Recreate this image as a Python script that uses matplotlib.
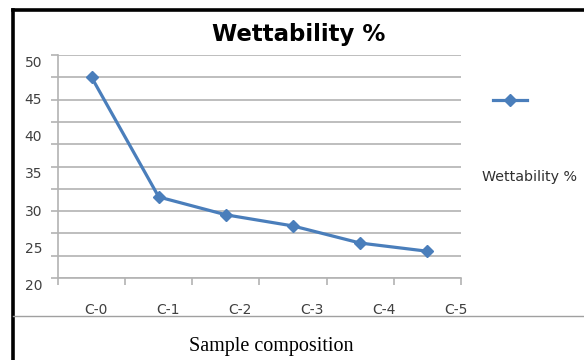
import matplotlib
matplotlib.use("Agg")
import matplotlib.pyplot as plt
import matplotlib.transforms as mtransforms
from matplotlib.lines import Line2D
import numpy as np

# ---- data ----
categories = ["C-0", "C-1", "C-2", "C-3", "C-4", "C-5"]
wettability = [47.0, 30.9, 28.5, 27.0, 24.7, 23.6]
y_tick_values = [20, 25, 30, 35, 40, 45, 50]
grid_values = list(range(20, 51, 3))
series_name = "Wettability %"
title = "Wettability %"
x_title = "Sample composition"

W, H = 584, 360
fig = plt.figure(figsize=(W / 100, H / 100), dpi=100)
fig.patch.set_facecolor("white")

ax = fig.add_axes([58 / W, 1 - 278 / H, (461 - 58) / W, (278 - 55) / H])
x = np.arange(len(categories))
blue = "#4A7EBB"
ax.plot(x, wettability, color=blue, lw=2.3, marker="D", ms=6.5,
        markeredgecolor=blue, markerfacecolor=blue, zorder=3)
ax.set_xlim(-0.5, len(categories) - 0.5)
ax.set_ylim(grid_values[0], grid_values[-1])

gray = "#B3B3B3"
# y gridlines & ticks
ax.set_yticks(grid_values)
ax.set_yticklabels([])
ax.grid(axis="y", color=gray, lw=1.2)
ax.tick_params(axis="y", length=5, width=1.2, color=gray, direction="out")
# x ticks at category boundaries
ax.set_xticks(np.arange(-0.5, len(categories), 1.0))
ax.set_xticklabels([])
ax.tick_params(axis="x", length=5, width=1.2, color=gray, direction="out")
for s in ["top", "right"]:
    ax.spines[s].set_visible(False)
for s in ["left", "bottom"]:
    ax.spines[s].set_color(gray)
    ax.spines[s].set_linewidth(1.2)

label_font = "DejaVu Sans"
# y labels (slightly offset as in the reference)
ytrans = mtransforms.blended_transform_factory(ax.transAxes, ax.transData) + \
    mtransforms.ScaledTranslation(-16 / 100, -8 / 100, fig.dpi_scale_trans)
for v in y_tick_values:
    ax.text(0, v, str(v), transform=ytrans, ha="right", va="center",
            fontsize=10, family=label_font, color="#404040")

# x category labels (stretched slightly as in the reference)
xtrans = mtransforms.blended_transform_factory(ax.transData, ax.transAxes) + \
    mtransforms.ScaledTranslation(0, -32 / 100, fig.dpi_scale_trans)
for i, c in enumerate(categories):
    ax.text(i * 1.07 + 0.07, 0, c, transform=xtrans, ha="center", va="center",
            fontsize=10, family=label_font, color="#404040")

# title & axis title
fig.text(299 / W, 1 - 35 / H, title, ha="center", va="center",
         fontsize=16.5, fontweight="bold", family="DejaVu Sans", color="black")
fig.text(271 / W, 1 - 347 / H, x_title, ha="center", va="center",
         fontsize=14.5, family="Liberation Serif", color="black")

# legend
fig.add_artist(Line2D([493 / W, 527 / W], [1 - 100 / H] * 2, color=blue, lw=2.3,
                      transform=fig.transFigure))
fig.add_artist(Line2D([510 / W], [1 - 100 / H], color=blue, marker="D", ms=6,
                      lw=0, transform=fig.transFigure))
fig.text(529 / W, 1 - 177 / H, series_name, ha="center", va="center",
         fontsize=10.3, family="DejaVu Sans", color="#303030")

# frame lines
fig.add_artist(Line2D([13 / W, 13 / W], [0, 1 - 10 / H], color="black", lw=2.6,
                      transform=fig.transFigure, solid_capstyle="projecting"))
fig.add_artist(Line2D([13 / W, 1], [1 - 10 / H] * 2, color="black", lw=2.6,
                      transform=fig.transFigure, solid_capstyle="projecting"))
fig.add_artist(Line2D([13 / W, 1], [1 - 316 / H] * 2, color="#A0A0A0", lw=1.0,
                      transform=fig.transFigure))

fig.savefig("out.png", dpi=100)
